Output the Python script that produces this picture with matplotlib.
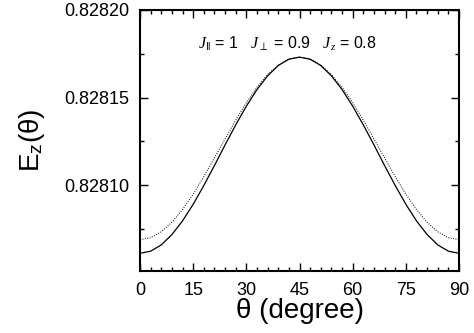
import matplotlib
matplotlib.use("Agg")
import matplotlib.pyplot as plt
from matplotlib.ticker import MultipleLocator, FormatStrFormatter

plt.rcParams['font.family'] = ['Liberation Sans', 'DejaVu Sans']
plt.rcParams['mathtext.fontset'] = 'custom'
plt.rcParams['mathtext.rm'] = 'Liberation Sans'
plt.rcParams['mathtext.sf'] = 'Liberation Sans'
plt.rcParams['mathtext.it'] = 'Liberation Serif:italic'

theta = [0, 3, 6, 9, 12, 15, 18, 21, 24, 27, 30, 33, 36, 39, 42, 45,
         48, 51, 54, 57, 60, 63, 66, 69, 72, 75, 78, 81, 84, 87, 90]

ez_solid = [0.8280611, 0.8280623, 0.8280659, 0.8280718, 0.8280796, 0.8280891,
            0.8280998, 0.8281112, 0.8281230, 0.8281344, 0.8281451, 0.8281546,
            0.8281624, 0.8281683, 0.8281719, 0.8281731,
            0.8281719, 0.8281683, 0.8281624, 0.8281546, 0.8281451, 0.8281344,
            0.8281230, 0.8281112, 0.8280998, 0.8280891, 0.8280796, 0.8280718,
            0.8280659, 0.8280623, 0.8280611]

ez_dotted = [0.8280689, 0.8280700, 0.8280734, 0.8280788, 0.8280861, 0.8280949,
             0.8281049, 0.8281156, 0.8281264, 0.8281371, 0.8281471, 0.8281559,
             0.8281632, 0.8281686, 0.8281720, 0.8281731,
             0.8281720, 0.8281686, 0.8281632, 0.8281559, 0.8281471, 0.8281371,
             0.8281264, 0.8281156, 0.8281049, 0.8280949, 0.8280861, 0.8280788,
             0.8280734, 0.8280700, 0.8280689]

xticks = [0, 15, 30, 45, 60, 75, 90]
yticks = [0.82810, 0.82815, 0.82820]

fig = plt.figure(figsize=(4.74, 3.33), dpi=100)
ax = fig.add_axes([0.2954, 0.1862, 0.6730, 0.7838])

ax.plot(theta, ez_solid, color='black', lw=0.9)
ax.plot(theta, ez_dotted, color='black', lw=0.7, linestyle=(0, (1, 1.5)))

ax.set_xlim(0, 90)
ax.set_ylim(0.828051, 0.8282)
ax.set_xticks(xticks)
ax.set_yticks(yticks)
ax.xaxis.set_minor_locator(MultipleLocator(3))
ax.yaxis.set_minor_locator(MultipleLocator(0.000025))
ax.yaxis.set_major_formatter(FormatStrFormatter('%.5f'))

ax.tick_params(which='both', direction='in', top=True, right=True, width=1)
ax.tick_params(which='major', length=6, labelsize=13, pad=8)
ax.tick_params(which='minor', length=3)
for s in ax.spines.values():
    s.set_linewidth(1.5)

ax.set_xlabel('θ (degree)', fontsize=20, labelpad=-1)
ax.set_ylabel(r'E$_\mathrm{z}$(θ)', fontsize=20, labelpad=12)

ax.text(0.462, 0.872,
        r'$J_{\Vert}$ = 1   $J_{\perp}$ = 0.9   $J_{z}$ = 0.8',
        transform=ax.transAxes, ha='center', va='center', fontsize=11.5)

fig.savefig('out.png', dpi=100)
